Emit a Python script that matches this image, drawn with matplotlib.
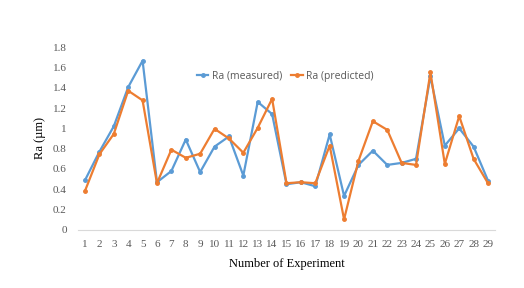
import matplotlib
matplotlib.use('Agg')
import matplotlib.pyplot as plt

experiments = list(range(1, 30))
ra_measured = [0.49, 0.77, 1.02, 1.405, 1.665, 0.47, 0.58, 0.89, 0.57, 0.82,
               0.92, 0.535, 1.26, 1.14, 0.45, 0.47, 0.43, 0.94, 0.335, 0.64,
               0.78, 0.64, 0.66, 0.70, 1.51, 0.83, 1.0, 0.82, 0.486]
ra_predicted = [0.385, 0.745, 0.945, 1.37, 1.275, 0.46, 0.79, 0.71, 0.75, 0.995,
                0.90, 0.76, 1.005, 1.29, 0.46, 0.47, 0.46, 0.83, 0.105, 0.68,
                1.07, 0.985, 0.66, 0.64, 1.55, 0.65, 1.12, 0.70, 0.46]
y_ticks = [0, 0.2, 0.4, 0.6, 0.8, 1, 1.2, 1.4, 1.6, 1.8]
y_tick_labels = ['0', '0.2', '0.4', '0.6', '0.8', '1', '1.2', '1.4', '1.6', '1.8']

fig = plt.figure(figsize=(5.24, 2.88), dpi=100)
ax = fig.add_axes([0.1485, 0.2014, 0.7965, 0.6354])

ax.plot(experiments, ra_measured, color='#5B9BD5', marker='o', markersize=2.5,
        linewidth=1.6, label='Ra (measured)')
ax.plot(experiments, ra_predicted, color='#ED7D31', marker='o', markersize=2.5,
        linewidth=1.6, label='Ra (predicted)')

ax.set_xlim(0.5, 29.5)
ax.set_ylim(0, 1.8)
ax.set_xticks(experiments)
ax.set_xticklabels([str(e) for e in experiments], family='Liberation Serif',
                   fontsize=8, color='#595959')
ax.set_yticks(y_ticks)
ax.set_yticklabels(y_tick_labels, family='Liberation Serif', fontsize=8,
                   color='#595959')
ax.tick_params(length=0)
ax.tick_params(axis='x', pad=7)
ax.tick_params(axis='y', pad=8)

for side in ['top', 'right', 'left']:
    ax.spines[side].set_visible(False)
ax.spines['bottom'].set_color('#D9D9D9')
ax.spines['bottom'].set_linewidth(0.8)

ax.set_ylabel('Ra (µm)', family='Liberation Serif', fontsize=9, labelpad=5)
ax.set_xlabel('Number of Experiment', family='Liberation Serif', fontsize=9,
              labelpad=7)

leg = ax.legend(loc='center left', bbox_to_anchor=(0.2856, 0.84), ncol=2,
                frameon=False, borderpad=0, borderaxespad=0,
                handlelength=1.1, handletextpad=0.3, columnspacing=0.9,
                prop={'family': 'Open Sans', 'size': 7.5})
for t in leg.get_texts():
    t.set_color('#595959')

fig.savefig('out.png', dpi=100)
